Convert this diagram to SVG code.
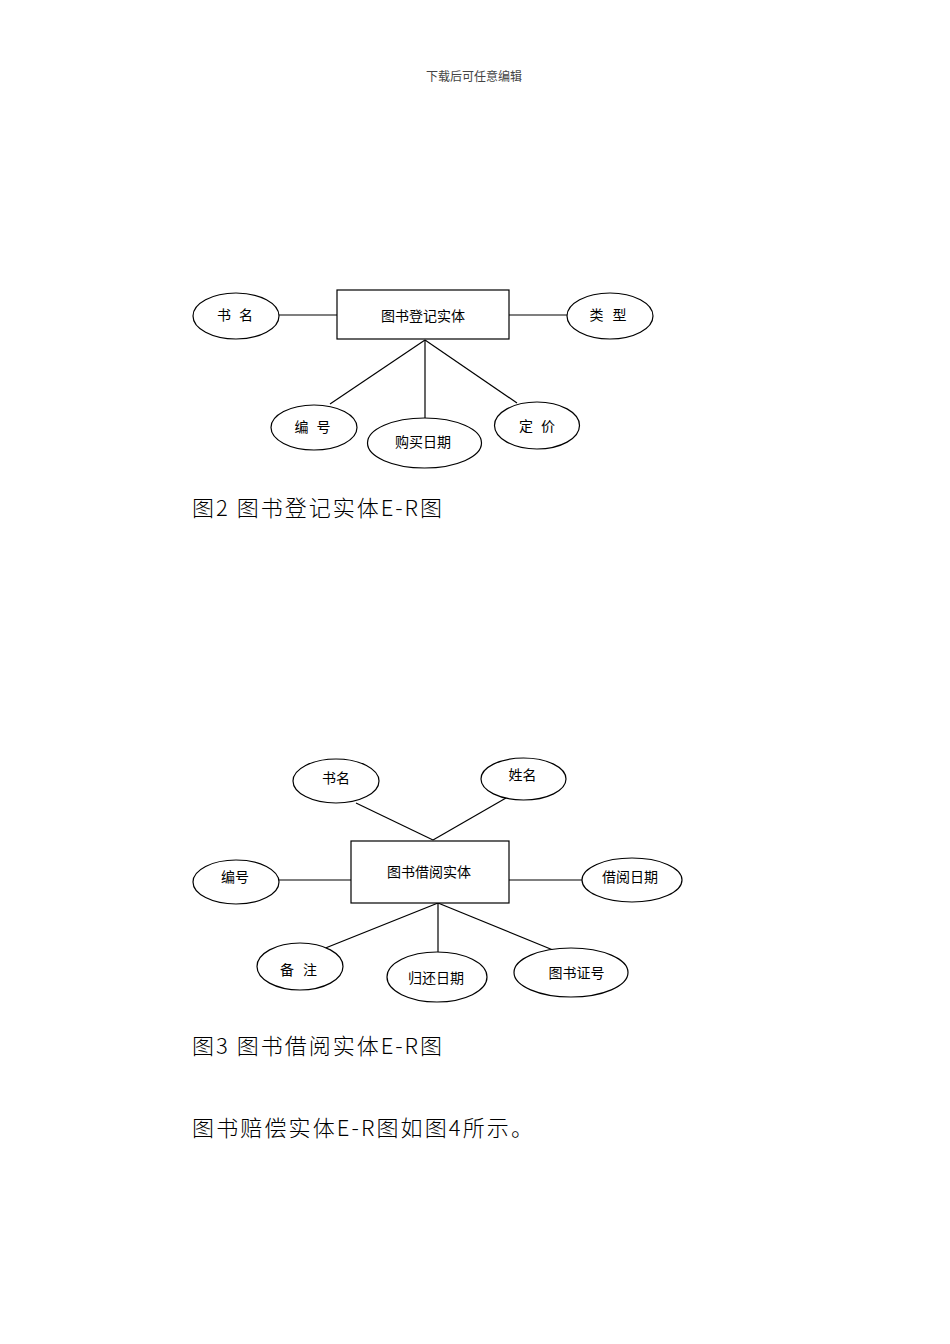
<svg xmlns="http://www.w3.org/2000/svg" width="950" height="1344" viewBox="0 0 950 1344">
<style>
.e{fill:#fff;stroke:#000;stroke-width:1.2}
.r{fill:#fff;stroke:#000;stroke-width:1.2}
.c line{stroke:#000;stroke-width:1.2}
.l{font-family:"Noto Sans CJK SC","Liberation Sans",sans-serif;font-size:14px;fill:#000;text-anchor:middle;dominant-baseline:central}
.cap{font-family:"Noto Sans CJK SC","Liberation Sans",sans-serif;font-size:22px;font-weight:300;fill:#000}
.hd{font-family:"Noto Sans CJK SC","Liberation Serif",serif;font-size:12px;fill:#444;text-anchor:middle}
</style>
<rect width="950" height="1344" fill="#fff"/>
<text class="hd" x="474" y="81">下载后可任意编辑</text>

<g id="connectors1" class="c">
<line x1="279" y1="315" x2="337" y2="315"/>
<line x1="509" y1="315" x2="567" y2="315"/>
<line x1="425" y1="340" x2="330" y2="404"/>
<line x1="425" y1="340" x2="425" y2="418"/>
<line x1="425" y1="340" x2="517" y2="403"/>
</g>
<g id="entity1"><rect class="r" x="337" y="290" width="172" height="49"/><text class="l" x="423" y="315">图书登记实体</text></g>
<g id="attr1-shuming"><ellipse class="e" cx="236" cy="316" rx="43" ry="23"/><text class="l" x="235" y="314" textLength="36" lengthAdjust="spacing" xml:space="preserve">书 名</text></g>
<g id="attr1-leixing"><ellipse class="e" cx="610" cy="316" rx="43" ry="23"/><text class="l" x="608" y="314" textLength="37" lengthAdjust="spacing" xml:space="preserve">类 型</text></g>
<g id="attr1-bianhao"><ellipse class="e" cx="314" cy="427.5" rx="43" ry="22.5"/><text class="l" x="312.5" y="426" textLength="36" lengthAdjust="spacing" xml:space="preserve">编 号</text></g>
<g id="attr1-goumai"><ellipse class="e" cx="424.5" cy="443" rx="57" ry="25"/><text class="l" x="423" y="441">购买日期</text></g>
<g id="attr1-dingjia"><ellipse class="e" cx="537" cy="425.5" rx="42.5" ry="23.5"/><text class="l" x="537" y="425" textLength="36" lengthAdjust="spacing" xml:space="preserve">定 价</text></g>
<text class="cap" x="192" y="516" textLength="250" lengthAdjust="spacing" xml:space="preserve">图2 图书登记实体E-R图</text>

<g id="connectors2" class="c">
<line x1="356" y1="803" x2="433" y2="840"/>
<line x1="506" y1="798" x2="433" y2="840"/>
<line x1="279" y1="880" x2="351" y2="880"/>
<line x1="509" y1="880" x2="582" y2="880"/>
<line x1="438" y1="903" x2="323" y2="949"/>
<line x1="438" y1="903" x2="438" y2="952"/>
<line x1="438" y1="903" x2="553" y2="950"/>
</g>
<g id="entity2"><rect class="r" x="351" y="841" width="158" height="62"/><text class="l" x="429" y="871">图书借阅实体</text></g>
<g id="attr2-shuming"><ellipse class="e" cx="336" cy="781" rx="43" ry="22"/><text class="l" x="336" y="777">书名</text></g>
<g id="attr2-xingming"><ellipse class="e" cx="523.5" cy="779" rx="42.5" ry="21"/><text class="l" x="522.5" y="774">姓名</text></g>
<g id="attr2-bianhao"><ellipse class="e" cx="236" cy="882" rx="43" ry="22"/><text class="l" x="235" y="876">编号</text></g>
<g id="attr2-jieyue"><ellipse class="e" cx="632" cy="880" rx="50" ry="22"/><text class="l" x="630" y="876">借阅日期</text></g>
<g id="attr2-beizhu"><ellipse class="e" cx="300" cy="966.5" rx="43" ry="23.5"/><text class="l" x="298.5" y="969" textLength="37" lengthAdjust="spacing" xml:space="preserve">备 注</text></g>
<g id="attr2-guihuan"><ellipse class="e" cx="437" cy="977" rx="50" ry="25"/><text class="l" x="436" y="977">归还日期</text></g>
<g id="attr2-zhenghao"><ellipse class="e" cx="571" cy="972.5" rx="57" ry="24.5"/><text class="l" x="576.5" y="972">图书证号</text></g>
<text class="cap" x="192" y="1054" textLength="250" lengthAdjust="spacing" xml:space="preserve">图3 图书借阅实体E-R图</text>

<text class="cap" x="192" y="1136" textLength="341" lengthAdjust="spacing">图书赔偿实体E-R图如图4所示。</text>
</svg>
